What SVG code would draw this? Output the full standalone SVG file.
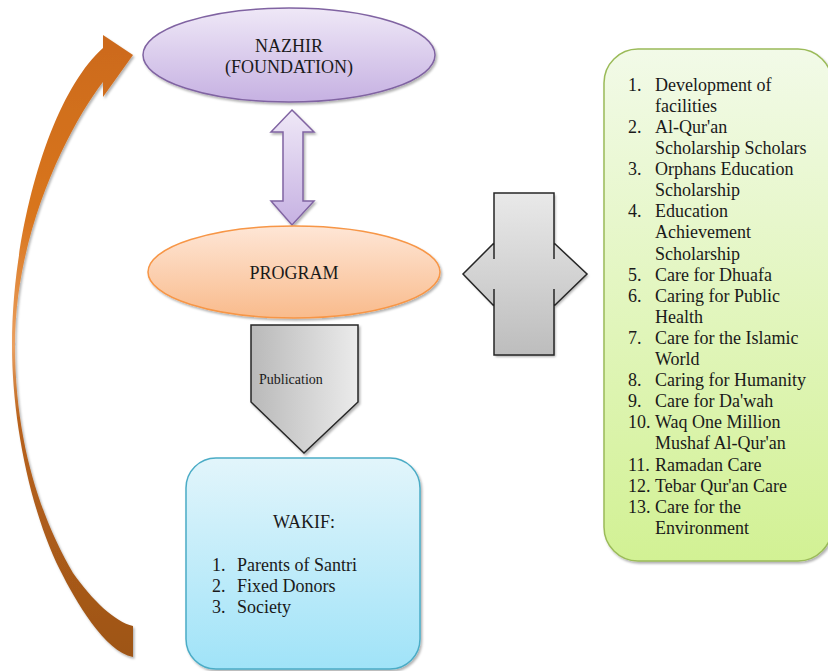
<svg xmlns="http://www.w3.org/2000/svg" width="828" height="671" viewBox="0 0 828 671">
<defs>
<linearGradient id="gPurple" x1="0" y1="0" x2="0" y2="1"><stop offset="0" stop-color="#efe8f7"/><stop offset="1" stop-color="#c6b1e2"/></linearGradient>
<linearGradient id="gOrange" x1="0" y1="0" x2="0" y2="1"><stop offset="0" stop-color="#fee6d6"/><stop offset="1" stop-color="#f9bb8c"/></linearGradient>
<linearGradient id="gBlue" x1="0" y1="0" x2="0" y2="1"><stop offset="0" stop-color="#e2f5fb"/><stop offset="1" stop-color="#a0e3f8"/></linearGradient>
<linearGradient id="gGreen" x1="0" y1="0" x2="0" y2="1"><stop offset="0" stop-color="#f2fae8"/><stop offset="1" stop-color="#d2f194"/></linearGradient>
<linearGradient id="gGrayH" x1="0" y1="0" x2="1" y2="0"><stop offset="0" stop-color="#b9b9b9"/><stop offset="1" stop-color="#ebebeb"/></linearGradient>
<linearGradient id="gGrayV" x1="0" y1="0" x2="0" y2="1"><stop offset="0" stop-color="#e9e9e9"/><stop offset="1" stop-color="#bdbdbd"/></linearGradient>
<linearGradient id="gCurve" x1="0" y1="0" x2="0" y2="1"><stop offset="0" stop-color="#cc6a1e"/><stop offset="0.3" stop-color="#d9761f"/><stop offset="0.5" stop-color="#eaa060"/><stop offset="0.62" stop-color="#b8621c"/><stop offset="1" stop-color="#9e5518"/></linearGradient>
<filter id="sh" x="-10%" y="-10%" width="130%" height="130%"><feDropShadow dx="1.5" dy="2" stdDeviation="1" flood-color="#000" flood-opacity="0.3"/></filter>
</defs>
<style>
text{font-family:"Liberation Serif","Times New Roman",serif;fill:#1a1a1a;font-size:18px}
.c{text-anchor:middle}
.gray{stroke:#262626;stroke-width:1.5}
</style>

<g id="connectors">
<path id="curved-arrow" filter="url(#sh)" fill="url(#gCurve)" d="M133,657 C105,652 75,600 60,570 C30,510 12,420 12,345 C12,230 50,95 103,48 L103,35 L133,55 L103,97 L103,82 C70,125 15,230 15,345 C15,450 45,525 73,573 C92,600 115,622 133,626 Z"/>
<path id="nazhir-program" filter="url(#sh)" fill="url(#gPurple)" stroke="#8064a2" stroke-width="1.5" d="M292,110 L314,132 L303,132 L303,201 L314,201 L292,225 L271,201 L283,201 L283,132 L271,132 Z"/>
<g id="publication">
<path filter="url(#sh)" class="gray" fill="url(#gGrayH)" d="M251,325 L358,325 L358,402 L304,453 L251,402 Z"/>
<text x="259" y="384" style="font-size:14px">Publication</text>
</g>
<g id="program-list">
<path filter="url(#sh)" fill="url(#gGrayV)" d="M494,193 L554,193 L554,243 L587,274 L554,306 L554,355 L494,355 L494,306 L463,274 L494,243 Z"/>
<path class="gray" fill="none" d="M494,259 L494,193 L554,193 L554,259 M554,289 L554,355 L494,355 L494,289 M494,243 L463,274 L494,306 M554,243 L587,274 L554,306"/>
</g>
</g>

<g id="nazhir">
<ellipse cx="289" cy="55" rx="146" ry="47" fill="url(#gPurple)" stroke="#8064a2" stroke-width="1.5" filter="url(#sh)"/>
<text class="c" x="289" y="52">NAZHIR</text>
<text class="c" x="289" y="72.5">(FOUNDATION)</text>
</g>

<g id="program">
<ellipse cx="294" cy="272" rx="146" ry="46" fill="url(#gOrange)" stroke="#f79646" stroke-width="1.5" filter="url(#sh)"/>
<text class="c" x="294" y="279">PROGRAM</text>
</g>

<g id="wakif">
<rect x="186" y="458" width="234" height="211" rx="30" fill="url(#gBlue)" stroke="#4bacc6" stroke-width="1.5" filter="url(#sh)"/>
<text class="c" x="304" y="528">WAKIF:</text>
<text x="212" y="571">1.</text><text x="237" y="571">Parents of Santri</text>
<text x="212" y="592">2.</text><text x="237" y="592">Fixed Donors</text>
<text x="212" y="613">3.</text><text x="237" y="613">Society</text>
</g>

<g id="program-items">
<rect x="604" y="49" width="228" height="512" rx="34" fill="url(#gGreen)" stroke="#9bbb59" stroke-width="1.5" filter="url(#sh)"/>
<text x="628" y="91">1.</text><text x="655" y="91">Development of</text>
<text x="655" y="112">facilities</text>
<text x="628" y="133">2.</text><text x="655" y="133">Al-Qur'an</text>
<text x="655" y="154">Scholarship Scholars</text>
<text x="628" y="175">3.</text><text x="655" y="175">Orphans Education</text>
<text x="655" y="196">Scholarship</text>
<text x="628" y="217">4.</text><text x="655" y="217">Education</text>
<text x="655" y="238">Achievement</text>
<text x="655" y="260">Scholarship</text>
<text x="628" y="281">5.</text><text x="655" y="281">Care for Dhuafa</text>
<text x="628" y="302">6.</text><text x="655" y="302">Caring for Public</text>
<text x="655" y="323">Health</text>
<text x="628" y="344">7.</text><text x="655" y="344">Care for the Islamic</text>
<text x="655" y="365">World</text>
<text x="628" y="386">8.</text><text x="655" y="386">Caring for Humanity</text>
<text x="628" y="407">9.</text><text x="655" y="407">Care for Da'wah</text>
<text x="628" y="428">10.</text><text x="655" y="428">Waq One Million</text>
<text x="655" y="449">Mushaf Al-Qur'an</text>
<text x="628" y="471">11.</text><text x="655" y="471">Ramadan Care</text>
<text x="628" y="492">12.</text><text x="655" y="492">Tebar Qur'an Care</text>
<text x="628" y="513">13.</text><text x="655" y="513">Care for the</text>
<text x="655" y="534">Environment</text>
</g>
</svg>
